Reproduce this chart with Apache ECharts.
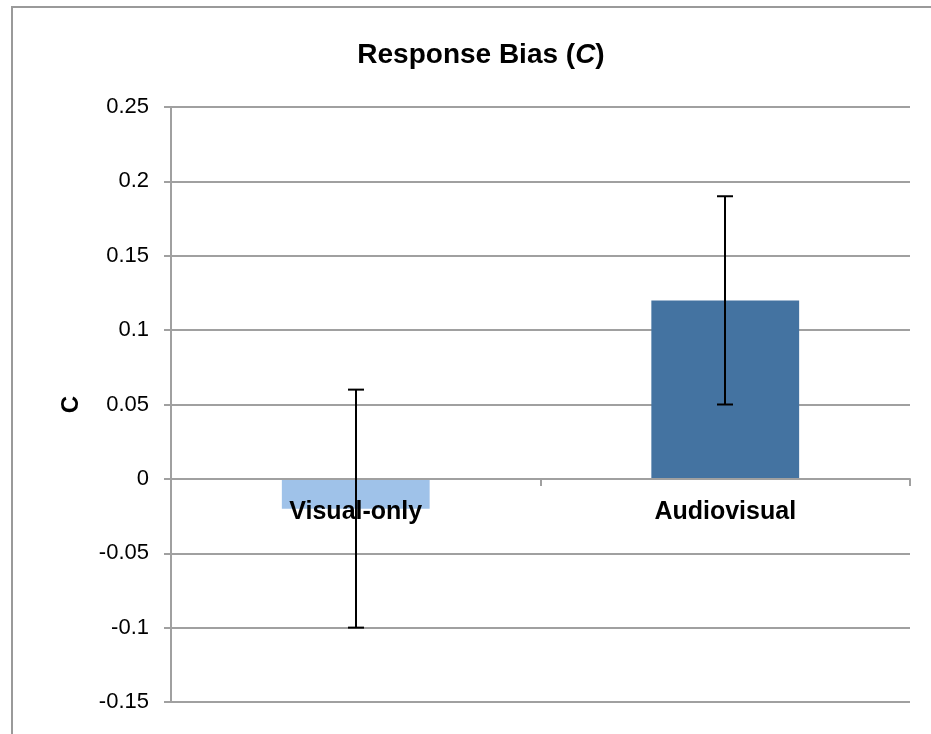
<!DOCTYPE html>
<html>
<head>
<meta charset="utf-8">
<script src="https://cdn.jsdelivr.net/npm/echarts@6/dist/echarts.min.js"></script>
<style>html,body{margin:0;padding:0;background:#fff;overflow:hidden;}#chart{width:931px;height:734px;}</style>
</head>
<body>
<div id="chart"></div>
<script>
const categories = ['Visual-only', 'Audiovisual'];
const meanValues = [-0.02, 0.12];
const errLow = [-0.10, 0.05];
const errHigh = [0.06, 0.19];
const barColors = ['#9FC2E9', '#4473A1'];
const yTicks = { min: -0.15, max: 0.25, interval: 0.05 };

const chart = echarts.init(document.getElementById('chart'));
const FONT = 'Liberation Sans, Arial, sans-serif';
chart.setOption({
  animation: false,
  backgroundColor: '#fff',
  graphic: [{
    type: 'polyline', shape: { points: [[12, 740], [12, 7], [940, 7]] },
    style: { fill: null, stroke: '#9a9a9a', lineWidth: 2 }, z: -10
  }],
  title: {
    text: '{a|Response Bias (}{i|C}{a|)}',
    left: 476, top: 36, textAlign: 'center',
    textStyle: {
      rich: {
        a: { fontFamily: FONT, fontWeight: 'bold', fontSize: 28, color: '#000' },
        i: { fontFamily: FONT, fontWeight: 'bold', fontStyle: 'italic', fontSize: 28, color: '#000' }
      }
    }
  },
  grid: { left: 171, right: 21, top: 107, bottom: 32, containLabel: false, outerBoundsMode: 'none' },
  xAxis: {
    type: 'category', data: categories, z: 3,
    axisLine: { onZero: true, lineStyle: { color: '#a0a0a0', width: 2 } },
    axisTick: { show: true, length: 7, lineStyle: { color: '#a0a0a0', width: 2 } },
    axisLabel: { show: false }
  },
  yAxis: {
    type: 'value', min: yTicks.min, max: yTicks.max, interval: yTicks.interval,
    name: 'C', nameLocation: 'middle', nameRotate: 90, nameGap: 88,
    nameTextStyle: { fontFamily: FONT, fontWeight: 'bold', fontSize: 24, color: '#000' },
    axisLine: { show: true, lineStyle: { color: '#a0a0a0', width: 2 } },
    axisTick: { show: true, length: 7, lineStyle: { color: '#a0a0a0', width: 2 } },
    splitLine: { lineStyle: { color: '#a0a0a0', width: 2 } },
    axisLabel: {
      fontFamily: FONT, fontSize: 22, color: '#000', margin: 22,
      formatter: v => String(Math.round(v * 100) / 100)
    }
  },
  series: [{
    type: 'bar', barWidth: '40%', z: 2,
    data: meanValues.map((v, i) => ({ value: v, itemStyle: { color: barColors[i] } }))
  }, {
    type: 'custom', z: 5, silent: true,
    data: categories.map((c, i) => [i, 0]),
    renderItem: (params, api) => {
      const p = api.coord([api.value(0), api.value(1)]);
      return {
        type: 'text',
        style: {
          x: p[0], y: p[1] + 33, text: categories[params.dataIndex],
          align: 'center', verticalAlign: 'middle',
          font: 'bold 25px ' + FONT, fill: '#000'
        }
      };
    }
  }, {
    type: 'custom', z: 10,
    data: categories.map((c, i) => [i, errLow[i], errHigh[i]]),
    renderItem: (params, api) => {
      const lo = api.coord([api.value(0), api.value(1)]);
      const hi = api.coord([api.value(0), api.value(2)]);
      const x = Math.round(lo[0]);
      const w = 8;
      const st = { stroke: '#000', lineWidth: 2 };
      return {
        type: 'group',
        children: [
          { type: 'line', shape: { x1: x, y1: hi[1], x2: x, y2: lo[1] }, style: st },
          { type: 'line', shape: { x1: x - w, y1: hi[1], x2: x + w, y2: hi[1] }, style: st },
          { type: 'line', shape: { x1: x - w, y1: lo[1], x2: x + w, y2: lo[1] }, style: st }
        ]
      };
    }
  }]
});
</script>
</body>
</html>
